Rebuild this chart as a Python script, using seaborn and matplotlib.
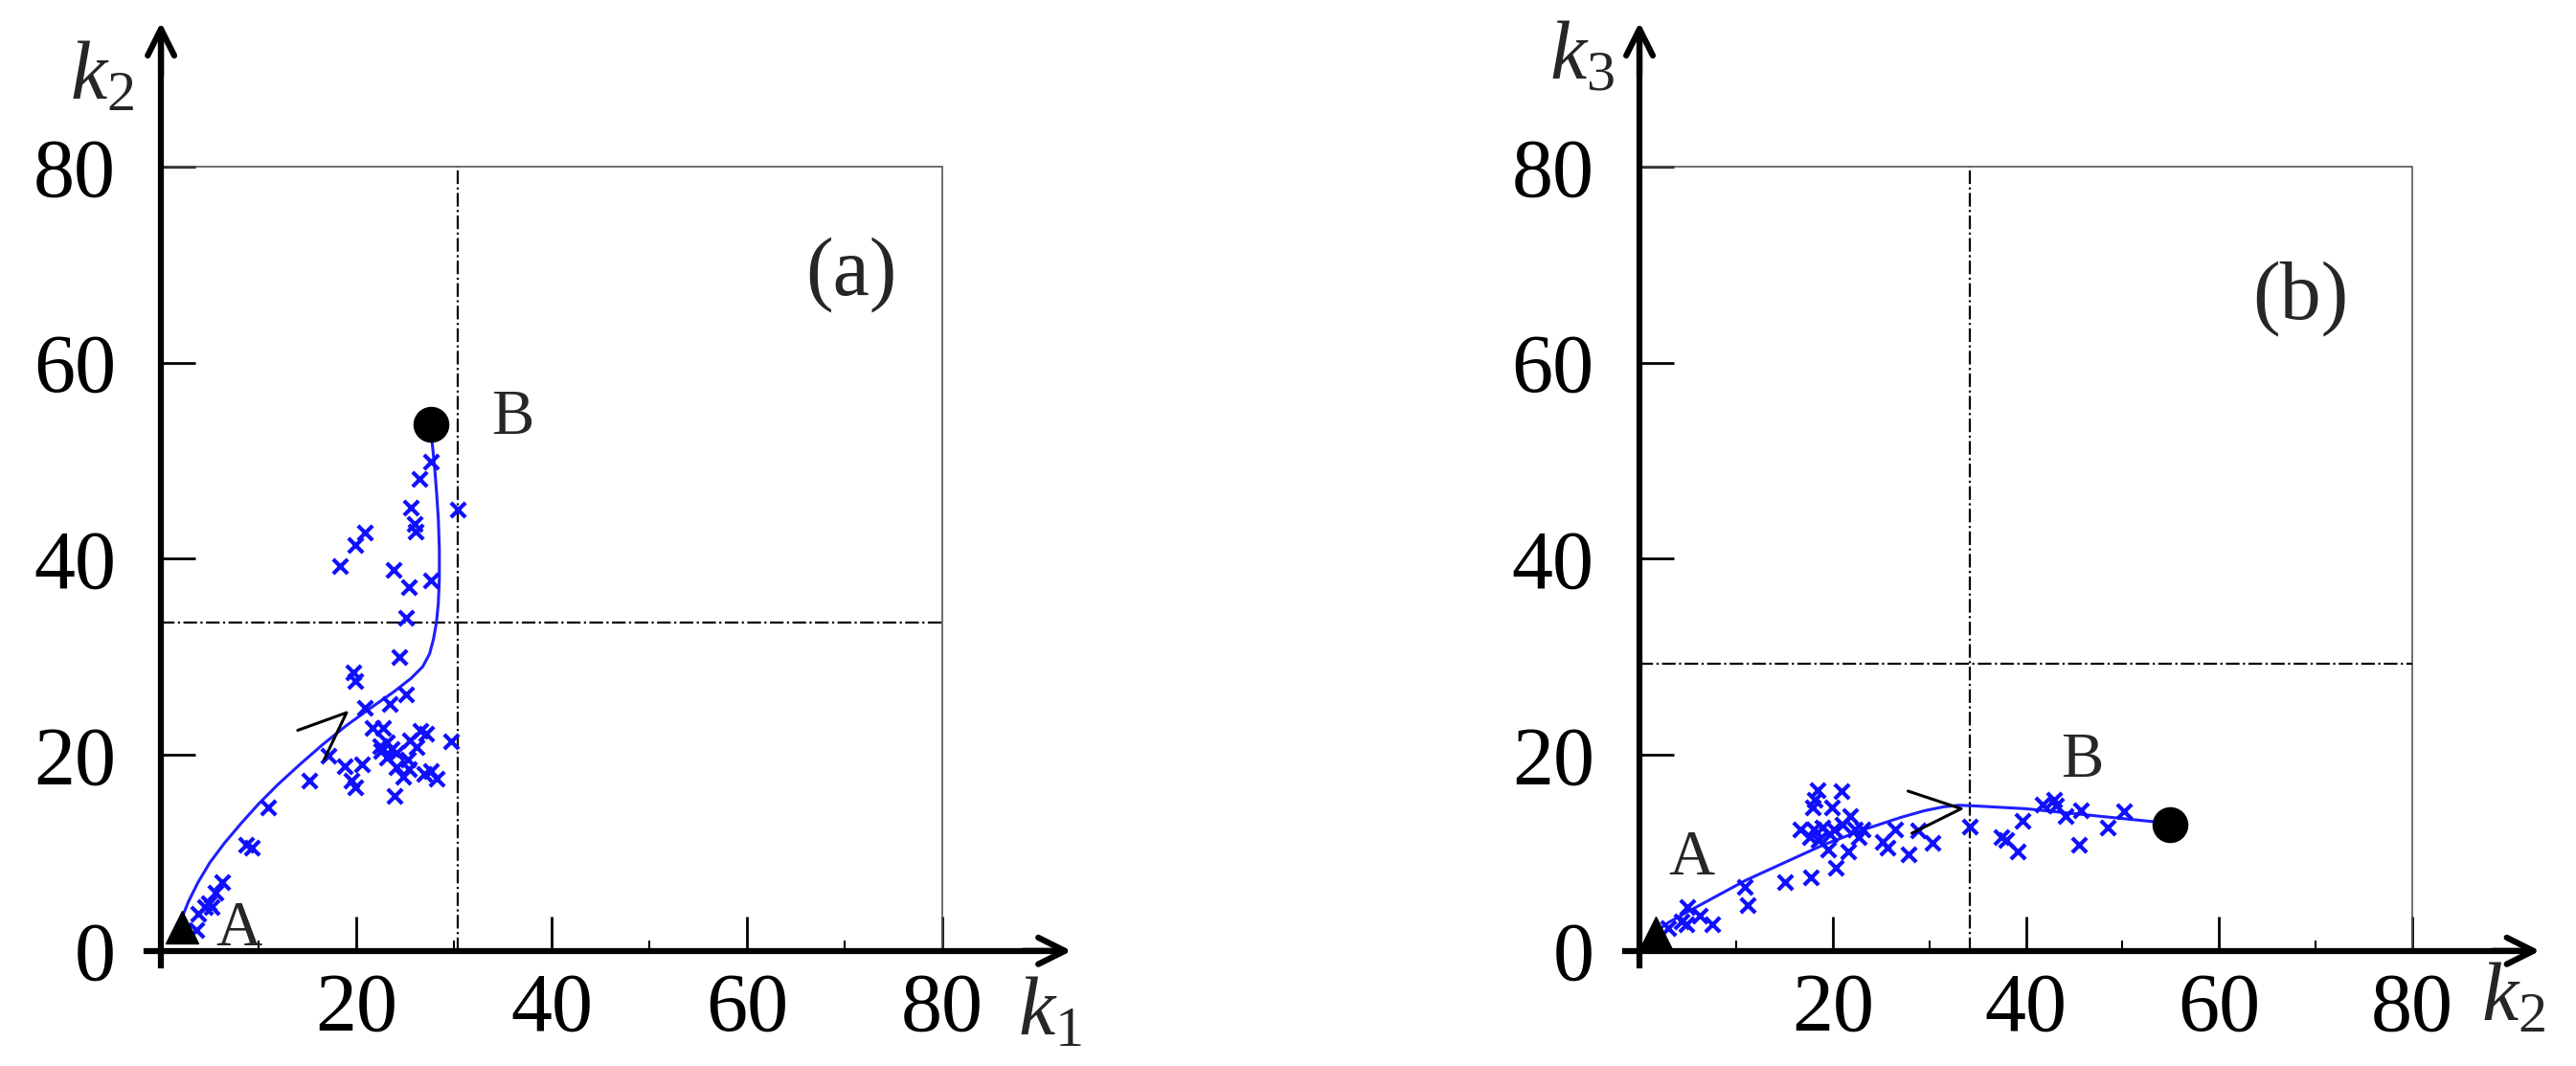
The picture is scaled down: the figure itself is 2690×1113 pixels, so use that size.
import numpy as np
import pandas as pd
import matplotlib
matplotlib.use("Agg")
import matplotlib.pyplot as plt
import seaborn as sns

sns.set_style("white", {"xtick.bottom": True, "ytick.left": True,
                        "xtick.direction": "in", "ytick.direction": "in"})
plt.rcParams['font.family'] = ['Liberation Serif', 'DejaVu Serif']
plt.rcParams['font.serif'] = ['Liberation Serif']
plt.rcParams['mathtext.fontset'] = 'custom'
plt.rcParams['mathtext.rm'] = 'Liberation Serif'
plt.rcParams['mathtext.it'] = 'Liberation Serif:italic'

# panel (a): k1 vs k2
a_x = [27.6, 26.5, 30.4, 25.6, 26.0, 26.1, 20.9, 19.9, 18.3, 23.8, 27.6, 25.4, 25.1, 24.4,
       19.7, 19.9, 25.1, 23.4, 20.9, 21.7, 22.7, 26.6, 27.1, 25.5, 29.7, 23.1, 22.4, 23.6,
       24.1, 22.5, 26.2, 25.3, 23.1, 17.1, 18.8, 20.6, 24.1, 25.4, 24.8, 27.0, 27.6, 28.2,
       19.5, 19.9, 15.2, 23.9, 11.0, 8.7, 9.3, 6.3, 5.6, 4.9, 4.5, 5.2, 3.8, 3.6]
a_y = [49.9, 48.1, 45.0, 45.2, 43.6, 42.8, 42.7, 41.4, 39.3, 38.9, 37.8, 37.1, 34.0, 30.0,
       28.4, 27.5, 26.2, 25.2, 24.8, 22.7, 22.7, 22.5, 22.2, 21.5, 21.4, 21.3, 20.9, 20.6,
       20.2, 20.4, 20.8, 19.5, 19.7, 19.9, 18.8, 19.0, 18.7, 18.5, 17.8, 18.1, 18.3, 17.6,
       17.4, 16.7, 17.4, 15.8, 14.6, 10.8, 10.5, 7.0, 5.9, 4.9, 4.5, 4.5, 3.8, 2.1]
a_curve_x = [2.0, 2.8, 3.8, 5.0, 6.5, 8.2, 10.0, 12.0, 14.2, 16.5, 19.0, 21.5, 23.8, 25.6,
             26.8, 27.5, 27.9, 28.2, 28.4, 28.5, 28.5, 28.4, 28.2, 28.0, 27.8, 27.6]
a_curve_y = [3.0, 5.0, 7.0, 9.0, 11.0, 13.0, 15.0, 17.0, 19.0, 21.0, 23.0, 24.8, 26.4, 27.8,
             29.0, 30.3, 31.8, 33.5, 35.5, 38.0, 41.0, 44.0, 47.0, 49.5, 51.5, 53.0]
a_start, a_end = (2.1, 2.4), (27.6, 53.7)
a_lines = (30.4, 33.5)
a_arrow = [(14.0, 22.5), (19.0, 24.3), (16.7, 19.5)]

# panel (b): k2 vs k3
b_x = [3.0, 4.4, 4.9, 5.0, 6.2, 7.5, 10.9, 11.2, 15.1, 17.7, 20.3, 19.5, 21.6, 18.4, 20.9,
       18.1, 17.9, 19.9, 21.8, 16.6, 18.0, 18.9, 20.1, 21.0, 22.3, 23.1, 17.6, 18.5, 19.7,
       22.7, 26.5, 28.8, 25.2, 25.7, 27.9, 30.3, 34.2, 37.5, 38.0, 39.2, 39.6, 41.7, 42.9,
       43.1, 44.1, 45.7, 45.5, 48.5, 50.2]
b_y = [2.3, 3.0, 2.7, 4.5, 3.6, 2.7, 6.5, 4.7, 7.0, 7.5, 8.5, 10.3, 10.1, 16.4, 16.3,
       15.4, 14.6, 14.6, 13.8, 12.4, 12.4, 12.6, 12.4, 12.9, 12.4, 12.4, 11.6, 11.3, 11.9,
       11.6, 12.4, 12.3, 11.1, 10.5, 9.8, 11.0, 12.7, 11.6, 11.3, 10.1, 13.3, 14.9, 15.4,
       14.8, 13.8, 14.3, 10.8, 12.6, 14.2]
b_curve_x = [1.5, 3, 5, 8, 11, 15, 19, 23, 27, 29.5, 31.5, 33, 34.5, 40, 45, 50, 55]
b_curve_y = [1.8, 2.9, 4.0, 5.6, 7.2, 9.0, 10.8, 12.3, 13.6, 14.3, 14.7, 14.85, 14.8, 14.5, 14.0, 13.5, 13.0]
b_start, b_end = (1.7, 1.8), (54.9, 12.9)
b_lines = (34.2, 29.3)
b_arrow = [(27.8, 16.3), (33.3, 14.5), (28.2, 12.0)]

FS = 62
fig = plt.figure(figsize=(26.9, 11.13), dpi=100)


def panel(pos, xs, ys, cx, cy, start, end, lines, arrow, tag, tagpos,
          apos, bpos, xlab, xlabpos, ylab, ylabpos):
    ax = fig.add_axes(pos)
    ax.set_xlim(-1, 95)
    ax.set_ylim(-1, 96)
    # frame box and reference lines
    ax.plot([0, 80, 80], [80, 80, 0], color='#555555', lw=1.2)
    ax.plot([lines[0], lines[0]], [0, 80], color='black', lw=1.6, ls='-.')
    ax.plot([0, 80], [lines[1], lines[1]], color='black', lw=1.6, ls='-.')
    curve = pd.DataFrame({'x': cx, 'y': cy})
    sns.lineplot(data=curve, x='x', y='y', sort=False, estimator=None,
                 color='#1f1fff', lw=2.2, ax=ax)
    sns.scatterplot(x=xs, y=ys, marker='x', color='#1010ff', s=120, linewidth=3, ax=ax, zorder=4)
    ax.plot(*zip(*arrow), color='black', lw=2.2, zorder=5)
    ax.plot(*start, marker='^', color='black', ms=24, zorder=6, clip_on=False)
    ax.plot(*end, marker='o', color='black', ms=26, zorder=6)
    for sp in ['top', 'right']:
        ax.spines[sp].set_visible(False)
    for sp in ['left', 'bottom']:
        ax.spines[sp].set_position(('data', 0))
        ax.spines[sp].set_linewidth(4.5)
        ax.spines[sp].set_color('black')
    ax.spines['left'].set_bounds(-1.5, 93)
    ax.spines['bottom'].set_bounds(-1.5, 92)
    ax.annotate('', xy=(93.5, 0), xytext=(88, 0),
                arrowprops=dict(arrowstyle='->', lw=4.5, mutation_scale=50, color='black'))
    ax.annotate('', xy=(0, 95), xytext=(0, 89),
                arrowprops=dict(arrowstyle='->', lw=4.5, mutation_scale=50, color='black'))
    ax.set_xticks([20, 40, 60, 80])
    ax.set_xticks([10, 30, 50, 70], minor=True)
    ax.set_yticks([0, 20, 40, 60, 80])
    ax.tick_params(axis='both', which='major', direction='in', length=26, width=2,
                   labelsize=FS, color='black', labelcolor='black',
                   left=True, bottom=True)
    ax.tick_params(axis='x', which='major', pad=16)
    ax.tick_params(axis='y', which='major', pad=34)
    ax.tick_params(axis='x', which='minor', direction='in', length=8, width=1.5,
                   bottom=True, color='black')
    ax.set_xlabel('')
    ax.set_ylabel('')
    ax.text(*tagpos, tag, fontsize=FS, ha='center', va='center')
    ax.text(*apos, 'A', fontsize=48, ha='center', va='center')
    ax.text(*bpos, 'B', fontsize=48, ha='center', va='center')
    ax.text(*xlabpos, xlab, fontsize=FS, ha='center', va='center', clip_on=False)
    ax.text(*ylabpos, ylab, fontsize=FS, ha='center', va='center', clip_on=False)
    return ax


panel([0.0587, 0.0988, 0.364, 0.892], a_x, a_y, a_curve_x, a_curve_y, a_start, a_end,
      a_lines, a_arrow, '(a)', (70.7, 69), (8, 2.2), (36, 54.4),
      r'$k_1$', (91, -6.5), r'$k_2$', (-6, 89))
panel([0.6327, 0.0988, 0.36, 0.892], b_x, b_y, b_curve_x, b_curve_y, b_start, b_end,
      b_lines, b_arrow, '(b)', (68.4, 66.5), (5.4, 9.4), (45.8, 19.4),
      r'$k_2$', (90.5, -5), r'$k_3$', (-6, 91))

fig.savefig('out.png', dpi=100)
